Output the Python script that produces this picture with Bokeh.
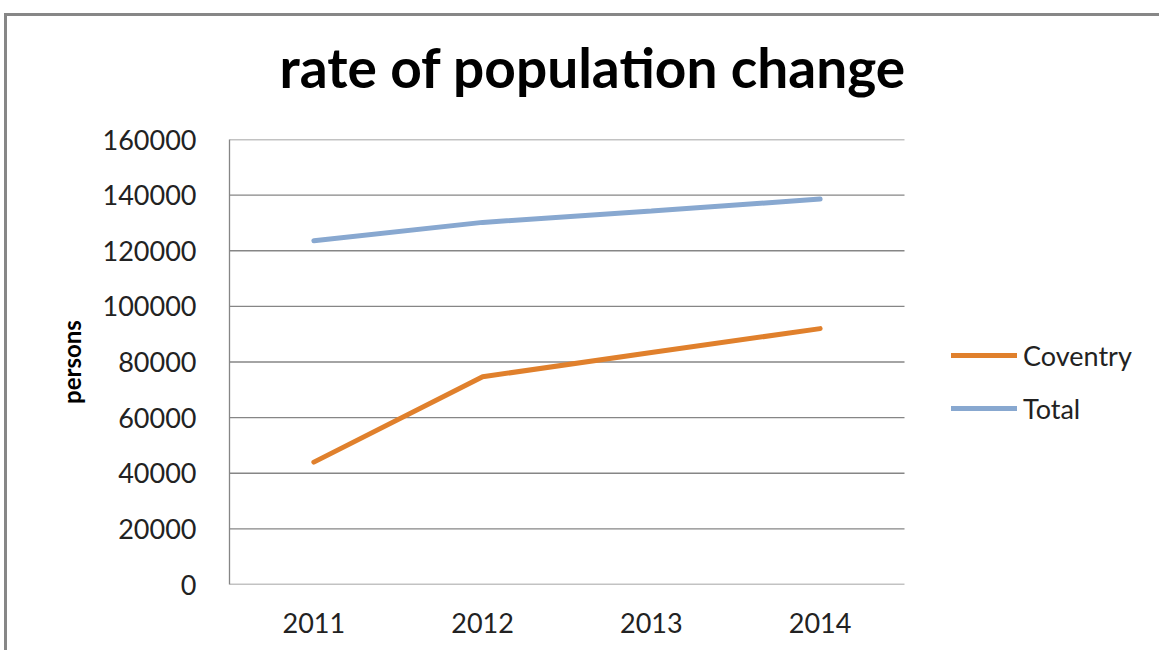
from bokeh.plotting import figure
from bokeh.models import Range1d, Legend, LegendItem, NumeralTickFormatter, Title
from bokeh.embed import file_html
from bokeh.resources import INLINE

years = ["2011", "2012", "2013", "2014"]
coventry = [44000, 74700, 83400, 92000]
total = [123600, 130200, 134300, 138600]
y_ticks = [0, 20000, 40000, 60000, 80000, 100000, 120000, 140000, 160000]

FONT = "Lato"
GRID = "#868686"

xs = list(range(len(years)))

# layout (pixels)
W, H = 1155, 637
LEFT, TOP, BOTTOM = 222, 123, 69
CAT_W = 168.75                      # pixel width of one category band
frame_w = W - LEFT
x_end = -0.5 + frame_w / CAT_W

p = figure(width=W, height=H, x_range=Range1d(-0.5, x_end), y_range=Range1d(0, 160000),
           output_backend="svg", toolbar_location=None,
           min_border_left=LEFT, min_border_right=0, min_border_top=TOP, min_border_bottom=BOTTOM)
p.margin = (13, 0, 0, 4)
p.styles = {"border-left": "3px solid #878787", "border-top": "3px solid #878787"}

p.outline_line_color = None
p.background_fill_color = "white"
p.border_fill_color = "white"

p.xgrid.grid_line_color = None
p.ygrid.grid_line_color = None

# horizontal gridlines spanning the category bands only
p.segment(x0=[-0.5] * len(y_ticks), x1=[len(years) - 0.5] * len(y_ticks), y0=y_ticks, y1=y_ticks,
          line_color=GRID, line_width=1.3)

p.yaxis.ticker = y_ticks
p.yaxis.formatter = NumeralTickFormatter(format="0")
p.yaxis.axis_line_color = GRID
p.yaxis.axis_line_width = 1.3
p.yaxis.major_tick_line_color = None
p.yaxis.minor_tick_line_color = None
p.yaxis.major_label_text_font = FONT
p.yaxis.major_label_text_font_size = "27px"
p.yaxis.major_label_text_color = "#222222"
p.yaxis.major_label_standoff = 27
p.yaxis.axis_label = "persons"
p.yaxis.axis_label_text_font = FONT
p.yaxis.axis_label_text_font_style = "bold"
p.yaxis.axis_label_text_font_size = "24px"
p.yaxis.axis_label_standoff = 14
p.yaxis.axis_label_text_color = "black"

p.xaxis.ticker = xs
p.xaxis.major_label_overrides = {i: y for i, y in zip(xs, years)}
p.xaxis.axis_line_color = None
p.xaxis.major_tick_line_color = None
p.xaxis.minor_tick_line_color = None
p.xaxis.major_label_text_font = FONT
p.xaxis.major_label_text_font_size = "27px"
p.xaxis.major_label_text_color = "#222222"
p.xaxis.major_label_standoff = 22

# empty built-in title; a thin spacer sits between the frame and the real title
p.title.text = ""
spacer = Title(text=" ", text_font_size="1px", standoff=37)
p.add_layout(spacer, "above")
main_title = Title(text="rate of population change", text_font=FONT, text_font_size="55px",
                   text_font_style="bold", text_color="black", align="left", offset=50, standoff=0)
p.add_layout(main_title, "above")

r1 = p.line(xs, coventry, line_color="#E0802C", line_width=5, line_cap="round")
r2 = p.line(xs, total, line_color="#88A8D0", line_width=5, line_cap="round")

legend = Legend(items=[LegendItem(label="Coventry", renderers=[r1]), LegendItem(label="Total", renderers=[r2])],
                location=(722, 156), glyph_width=66, glyph_height=40, label_height=40, spacing=13,
                label_standoff=6, padding=0, margin=0, border_line_color=None, background_fill_alpha=0,
                label_text_font=FONT, label_text_font_size="27px", label_text_color="#222222")
p.add_layout(legend, "center")

open("out.html", "w").write(file_html(p, INLINE))
